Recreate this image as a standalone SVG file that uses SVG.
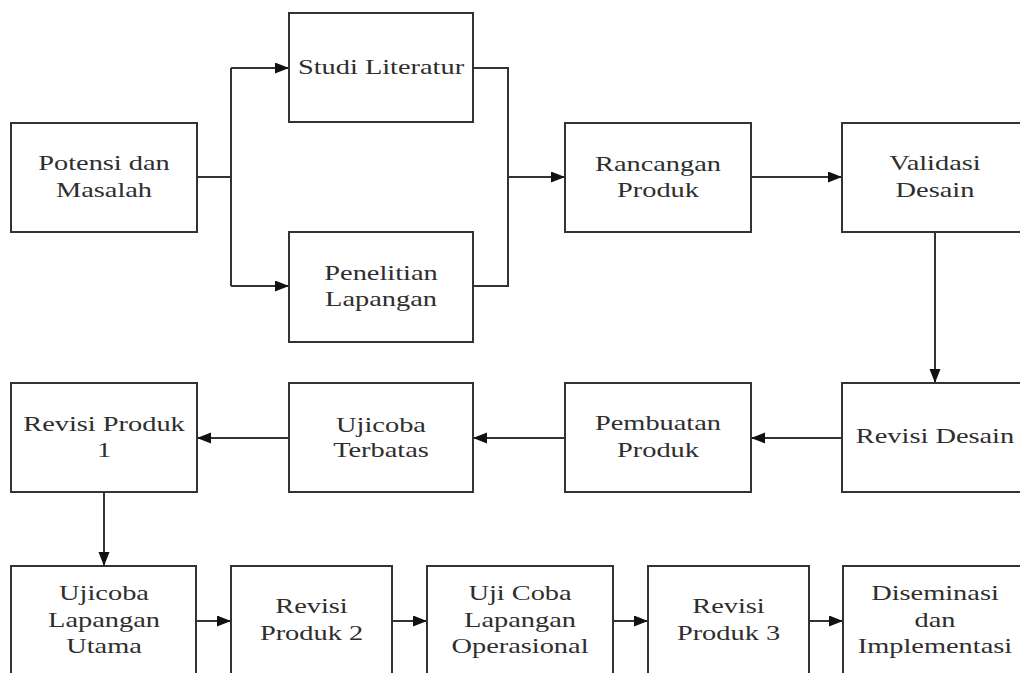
<svg xmlns="http://www.w3.org/2000/svg" width="1020" height="673" viewBox="0 0 1020 673">
<style>
.box{fill:#fff;stroke:#333;stroke-width:2}
.t{font-family:"Liberation Serif","Times New Roman",serif;font-size:22px;fill:#2e2e2e;text-anchor:middle}
.c{fill:none;stroke:#333;stroke-width:2}
</style>
<defs>
<marker id="ah" markerUnits="userSpaceOnUse" markerWidth="15" markerHeight="12" refX="14" refY="5.5" orient="auto">
<path d="M0,0 L14,5.5 L0,11 Z" fill="#111"/>
</marker>
</defs>
<rect width="1020" height="673" fill="#fff"/>
<g id="connectors">
<path class="c" d="M197,177 H231 M231,68 V286 M473,68 H508 V286 H473"/>
<path class="c" d="M231,68 H289" marker-end="url(#ah)"/>
<path class="c" d="M231,286 H289" marker-end="url(#ah)"/>
<path class="c" d="M508,177 H565" marker-end="url(#ah)"/>
<path class="c" d="M751,177 H842" marker-end="url(#ah)"/>
<path class="c" d="M935,232 V383" marker-end="url(#ah)"/>
<path class="c" d="M842,438 H751" marker-end="url(#ah)"/>
<path class="c" d="M565,438 H473" marker-end="url(#ah)"/>
<path class="c" d="M289,438 H197" marker-end="url(#ah)"/>
<path class="c" d="M104,492 V566" marker-end="url(#ah)"/>
<path class="c" d="M196,621 H231" marker-end="url(#ah)"/>
<path class="c" d="M392,621 H427" marker-end="url(#ah)"/>
<path class="c" d="M613,621 H648" marker-end="url(#ah)"/>
<path class="c" d="M809,621 H843" marker-end="url(#ah)"/>
</g>
<g id="potensi"><rect class="box" x="11" y="123" width="186" height="109"/>
<text class="t" transform="translate(104,0) scale(1.29,1)" y="170">Potensi dan</text>
<text class="t" transform="translate(104,0) scale(1.29,1)" y="197">Masalah</text></g>
<g id="studi"><rect class="box" x="289" y="13" width="184" height="109"/>
<text class="t" transform="translate(381,0) scale(1.29,1)" y="74">Studi Literatur</text></g>
<g id="penelitian"><rect class="box" x="289" y="232" width="184" height="110"/>
<text class="t" transform="translate(381,0) scale(1.29,1)" y="280">Penelitian</text>
<text class="t" transform="translate(381,0) scale(1.29,1)" y="306">Lapangan</text></g>
<g id="rancangan"><rect class="box" x="565" y="123" width="186" height="109"/>
<text class="t" transform="translate(658,0) scale(1.29,1)" y="171">Rancangan</text>
<text class="t" transform="translate(658,0) scale(1.29,1)" y="197">Produk</text></g>
<g id="validasi"><rect class="box" x="842" y="123" width="186" height="109"/>
<text class="t" transform="translate(935,0) scale(1.29,1)" y="170">Validasi</text>
<text class="t" transform="translate(935,0) scale(1.29,1)" y="197">Desain</text></g>
<g id="revisi-desain"><rect class="box" x="842" y="383" width="186" height="109"/>
<text class="t" transform="translate(935,0) scale(1.29,1)" y="443">Revisi Desain</text></g>
<g id="pembuatan"><rect class="box" x="565" y="383" width="186" height="109"/>
<text class="t" transform="translate(658,0) scale(1.29,1)" y="430">Pembuatan</text>
<text class="t" transform="translate(658,0) scale(1.29,1)" y="457">Produk</text></g>
<g id="ujicoba-terbatas"><rect class="box" x="289" y="383" width="184" height="109"/>
<text class="t" transform="translate(381,0) scale(1.29,1)" y="432">Ujicoba</text>
<text class="t" transform="translate(381,0) scale(1.29,1)" y="457">Terbatas</text></g>
<g id="revisi-produk-1"><rect class="box" x="11" y="383" width="186" height="109"/>
<text class="t" transform="translate(104,0) scale(1.29,1)" y="431">Revisi Produk</text>
<text class="t" transform="translate(104,0) scale(1.29,1)" y="457">1</text></g>
<g id="ujicoba-lapangan"><rect class="box" x="11" y="566" width="185" height="120"/>
<text class="t" transform="translate(104,0) scale(1.29,1)" y="600">Ujicoba</text>
<text class="t" transform="translate(104,0) scale(1.29,1)" y="627">Lapangan</text>
<text class="t" transform="translate(104,0) scale(1.29,1)" y="653">Utama</text></g>
<g id="revisi-produk-2"><rect class="box" x="231" y="566" width="161" height="120"/>
<text class="t" transform="translate(311.5,0) scale(1.29,1)" y="613">Revisi</text>
<text class="t" transform="translate(311.5,0) scale(1.29,1)" y="640">Produk 2</text></g>
<g id="uji-coba-operasional"><rect class="box" x="427" y="566" width="186" height="120"/>
<text class="t" transform="translate(520,0) scale(1.29,1)" y="600">Uji Coba</text>
<text class="t" transform="translate(520,0) scale(1.29,1)" y="627">Lapangan</text>
<text class="t" transform="translate(520,0) scale(1.29,1)" y="653">Operasional</text></g>
<g id="revisi-produk-3"><rect class="box" x="648" y="566" width="161" height="120"/>
<text class="t" transform="translate(728.5,0) scale(1.29,1)" y="613">Revisi</text>
<text class="t" transform="translate(728.5,0) scale(1.29,1)" y="640">Produk 3</text></g>
<g id="diseminasi"><rect class="box" x="843" y="566" width="185" height="120"/>
<text class="t" transform="translate(935,0) scale(1.29,1)" y="600">Diseminasi</text>
<text class="t" transform="translate(935,0) scale(1.29,1)" y="627">dan</text>
<text class="t" transform="translate(935,0) scale(1.29,1)" y="653">Implementasi</text></g>
</svg>
